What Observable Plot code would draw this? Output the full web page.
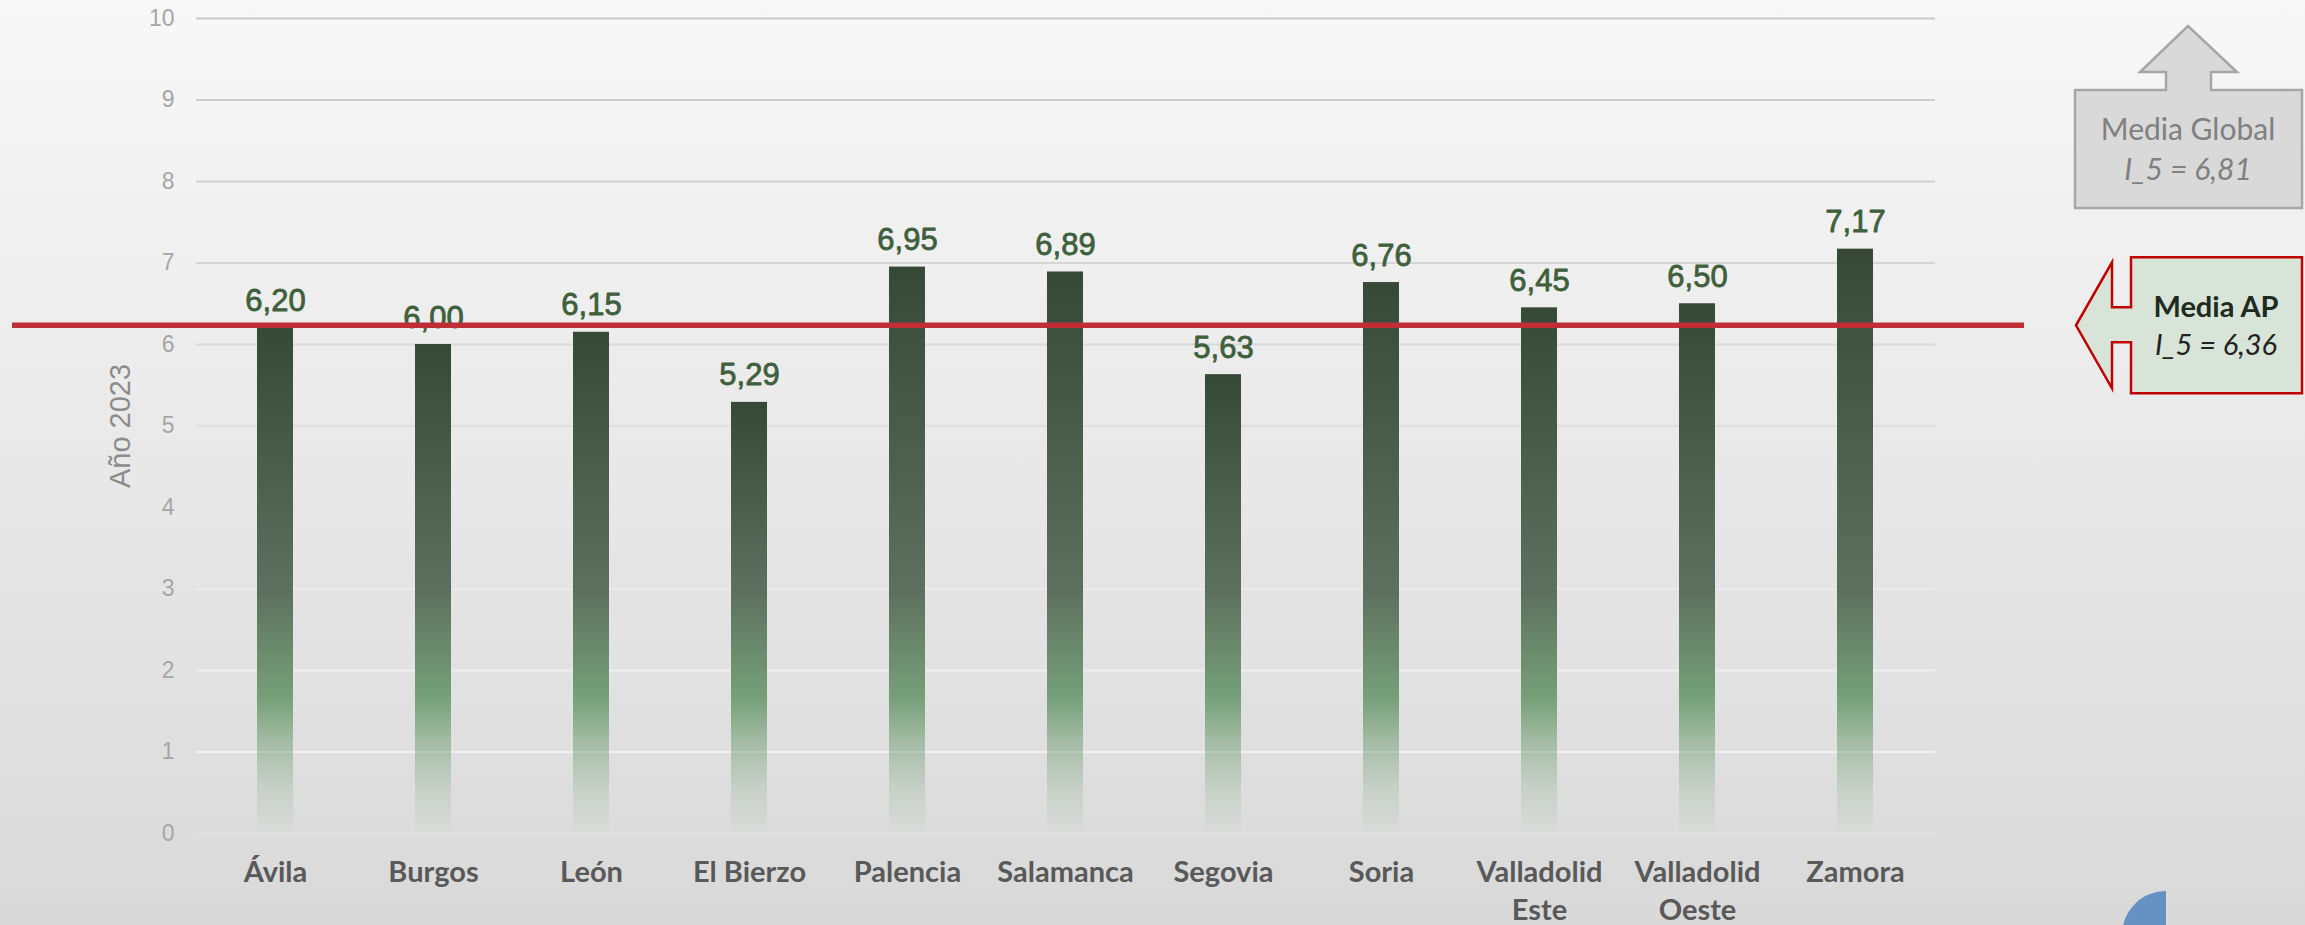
<!DOCTYPE html>
<html>
<head>
<meta charset="utf-8">
<script src="https://cdn.jsdelivr.net/npm/d3@7"></script>
<script src="https://cdn.jsdelivr.net/npm/@observablehq/plot@0.6"></script>
<style>
  html, body { margin: 0; padding: 0; background: #e8e8e8; }
  #chart svg { display: block; }
</style>
</head>
<body>
<div id="chart"></div>
<script>
// ---- data ----
const categories = ["Ávila", "Burgos", "León", "El Bierzo", "Palencia", "Salamanca", "Segovia", "Soria", "Valladolid Este", "Valladolid Oeste", "Zamora"];
const tickLabels = ["Ávila", "Burgos", "León", "El Bierzo", "Palencia", "Salamanca", "Segovia", "Soria", "Valladolid\nEste", "Valladolid\nOeste", "Zamora"];
const values = [6.20, 6.00, 6.15, 5.29, 6.95, 6.89, 5.63, 6.76, 6.45, 6.50, 7.17];
const yTicks = [0, 1, 2, 3, 4, 5, 6, 7, 8, 9, 10];
const yLabel = "Año 2023";
const mediaLineValue = 6.23;          // where the red reference line is drawn
const globalTitle = "Media Global";
const globalValue = "I_5 = 6,81";
const apTitle = "Media AP";
const apValue = "I_5 = 6,36";

const data = categories.map((c, i) => ({name: c, value: values[i], idx: i}));
const fmt = v => d3.format(".2f")(v).replace(".", ",");
const gridColor = d3.scaleLinear().domain([10, 6, 3, 1, 0]).range(["#cbcbcb", "#d8d8d8", "#ececec", "#f1f1f1", "#e2e2e2"]);

const W = 2305, H = 925;

const chart = Plot.plot({
  width: W,
  height: H,
  marginLeft: 196,
  marginRight: W - 1935,
  marginTop: 18,
  marginBottom: H - 833,
  style: {
    fontFamily: "'Liberation Sans', Arial, sans-serif",
    background: "linear-gradient(to bottom, #f8f8f8 0%, #d9d9d9 100%)"
  },
  x: {domain: categories, paddingInner: 0.772, paddingOuter: 0.386, label: null},
  y: {domain: [0, 10], label: null},
  color: {type: "identity"},
  marks: [
    Plot.ruleY(yTicks, {y: d => d, stroke: d => gridColor(d), strokeWidth: 2}),
    Plot.barY(data, {x: "name", y: "value", fill: d => `url(#barGrad${d.idx})`}),
    Plot.axisY({ticks: yTicks, tickSize: 0, tickPadding: 22, fontSize: 23, color: "#a6a6a6", label: null, tickFormat: d => String(d)}),
    Plot.axisX({tickSize: 0, tickPadding: 22, fontSize: 29, fontWeight: "bold", fontFamily: "Lato, 'Liberation Sans', sans-serif",
      color: "#595959", label: null, lineHeight: 1.3, tickFormat: d => tickLabels[categories.indexOf(d)]}),
    Plot.text(data, {x: "name", y: "value", text: d => fmt(d.value), lineAnchor: "bottom", dy: -17, fontSize: 31,
      fill: "#3f5f3d", stroke: "#3f5f3d", strokeWidth: 0.8}),
    Plot.text([yLabel], {frameAnchor: "left", textAnchor: "middle", lineAnchor: "middle", rotate: -90, dx: -76, fontSize: 29, fill: "#8c8c8c", text: d => d})
  ]
});

document.getElementById("chart").appendChild(chart);

// ---- gradients & annotations drawn with the plot's own y scale ----
const yScale = chart.scale("y");
const ys = v => yScale.apply(v);
const svg = d3.select(chart);
const defs = svg.insert("defs", ":first-child");

// colour levels along the value axis (absolute)
const gradLevels = [
  {v: 3.0, color: "#5d6f5e", op: 1},
  {v: 1.65, color: "#76a079", op: 1},
  {v: 1.1, color: "#76a079", op: 0.55},
  {v: 0.5, color: "#76a079", op: 0.2},
  {v: 0.0, color: "#76a079", op: 0.02}
];
data.forEach(d => {
  const g = defs.append("linearGradient").attr("id", `barGrad${d.idx}`)
    .attr("x1", 0).attr("y1", 0).attr("x2", 0).attr("y2", 1);
  g.append("stop").attr("offset", 0).attr("stop-color", "#364936");
  gradLevels.forEach(s => {
    g.append("stop").attr("offset", (d.value - s.v) / d.value)
      .attr("stop-color", s.color).attr("stop-opacity", s.op);
  });
});

// red reference line
const yl = ys(mediaLineValue);
svg.append("line").attr("x1", 12).attr("x2", 2024).attr("y1", yl).attr("y2", yl)
  .attr("stroke", "#bf2e36").attr("stroke-width", 5.5);

// Global mean callout (up arrow)
const ga = svg.append("g");
ga.append("path")
  .attr("d", "M2075,90 L2166,90 L2166,72 L2140,72 L2188,26 L2237,72 L2211,72 L2211,90 L2302,90 L2302,208 L2075,208 Z")
  .attr("fill", "#d9d9d9").attr("stroke", "#a6a6a6").attr("stroke-width", 2.5);
ga.append("text").attr("x", 2188).attr("y", 140).attr("text-anchor", "middle")
  .attr("font-family", "Lato, sans-serif").attr("font-size", 30).attr("fill", "#808080").text(globalTitle);
ga.append("text").attr("x", 2188).attr("y", 180).attr("text-anchor", "middle")
  .attr("font-family", "Lato, sans-serif").attr("font-style", "italic").attr("font-size", 30).attr("fill", "#808080").text(globalValue);

// AP mean callout (left arrow pointing at the red line)
const ap = svg.append("g");
const t = yl;
ap.append("path")
  .attr("d", `M2131,${t-68} L2302,${t-68} L2302,${t+68} L2131,${t+68} L2131,${t+17} L2112,${t+17} L2112,${t+63} L2076,${t} L2112,${t-63} L2112,${t-18} L2131,${t-18} Z`)
  .attr("fill", "#d8e4d8").attr("stroke", "#c00000").attr("stroke-width", 2.5);
ap.append("text").attr("x", 2216).attr("y", t - 8).attr("text-anchor", "middle")
  .attr("font-family", "Lato, sans-serif").attr("font-weight", "bold").attr("font-size", 29).attr("fill", "#1e2b1e").text(apTitle);
ap.append("text").attr("x", 2216).attr("y", t + 30).attr("text-anchor", "middle")
  .attr("font-family", "Lato, sans-serif").attr("font-style", "italic").attr("font-size", 29).attr("fill", "#222222").text(apValue);

// partial blue shape in the lower-right corner
svg.append("path").attr("d", "M2166,935 L2166,891 A44,44 0 0 0 2122,935 Z").attr("fill", "#6591c3");
</script>
</body>
</html>
